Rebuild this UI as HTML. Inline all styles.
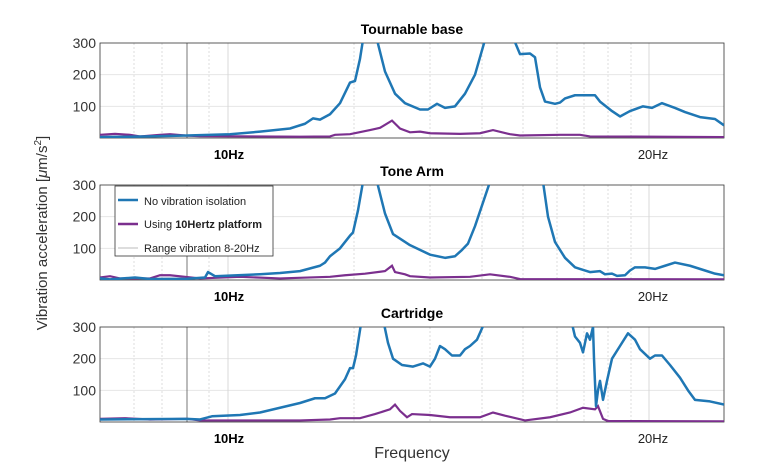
<!DOCTYPE html><html><head><style>
body{margin:0;background:#fff;font-family:"Liberation Sans",sans-serif}
text{font-family:"Liberation Sans",sans-serif}
</style></head><body>
<svg id="s" width="776" height="466" viewBox="0 0 776 466" xmlns="http://www.w3.org/2000/svg"></svg>
<script>
const S=document.getElementById('s');let h='';
const panels=[{t:43,title:'Tournable base'},{t:185,title:'Tone  Arm'},{t:327,title:'Cartridge'}];
const H=95,L=100,R=724;
const grid=[134,162,209,354,430,482,523,557,584,608,631];
const data=[
{b:[[100,3],[150,5],[187,8],[230,12],[260,20],[290,30],[305,45],[313,62],[320,58],[330,75],[340,110],[350,175],[355,180],[360,250],[363,310],[377,310],[385,210],[395,140],[405,110],[420,90],[428,90],[437,108],[445,95],[455,100],[465,140],[475,200],[485,310],[514,310],[520,265],[530,267],[535,255],[540,160],[545,115],[555,108],[560,112],[565,125],[575,135],[595,135],[600,115],[612,85],[620,68],[630,85],[643,100],[652,95],[662,110],[675,95],[685,82],[700,66],[715,60],[724,40]],
p:[[100,10],[115,13],[130,10],[140,5],[160,10],[170,12],[185,8],[200,6],[300,4],[330,5],[335,10],[350,12],[370,25],[380,32],[392,55],[400,30],[410,18],[420,20],[430,15],[460,13],[480,15],[493,25],[510,12],[520,8],[560,10],[580,10],[590,5],[724,3]]},
{b:[[100,5],[110,2],[135,8],[150,3],[187,4],[205,8],[208,25],[215,12],[260,18],[280,22],[300,28],[320,45],[325,55],[330,75],[340,100],[350,140],[353,150],[358,220],[363,310],[377,310],[385,210],[393,145],[410,110],[430,80],[445,70],[455,75],[462,95],[468,115],[475,170],[490,310],[543,310],[548,200],[555,120],[565,70],[575,40],[580,35],[590,25],[600,28],[605,18],[612,20],[617,13],[625,15],[630,30],[635,40],[645,40],[655,35],[665,45],[675,55],[690,45],[705,30],[715,20],[724,15]],
p:[[100,8],[110,12],[120,5],[150,5],[160,15],[170,15],[185,10],[200,5],[240,10],[280,5],[330,10],[345,15],[365,20],[385,28],[392,45],[395,25],[405,18],[410,12],[430,8],[470,10],[490,18],[510,10],[520,3],[724,2]]},
{b:[[100,8],[187,10],[200,8],[212,18],[240,22],[260,30],[280,45],[300,60],[315,75],[325,75],[335,90],[345,135],[350,170],[353,170],[356,210],[361,310],[384,310],[388,250],[393,200],[402,180],[413,175],[423,185],[430,175],[435,200],[440,240],[445,230],[452,210],[460,210],[465,230],[470,240],[477,260],[484,310],[572,310],[575,270],[580,250],[583,220],[587,280],[590,260],[593,300],[594,200],[596,50],[598,100],[600,130],[603,70],[607,130],[612,200],[620,240],[628,280],[635,260],[640,230],[650,200],[655,210],[662,210],[670,180],[680,140],[688,100],[695,70],[710,65],[724,55]],
p:[[100,10],[125,12],[150,8],[187,10],[200,5],[300,5],[330,8],[340,12],[360,12],[375,25],[390,40],[395,55],[400,35],[407,15],[412,25],[430,22],[450,15],[480,15],[493,30],[505,20],[525,5],[550,15],[570,30],[583,45],[595,40],[598,50],[603,10],[608,3],[724,2]]}];
panels.forEach((p,i)=>{
 const t=p.t,b=t+H,y=v=>b-v*H/300;
 h+=`<clipPath id="c${i}"><rect x="${L}" y="${t}" width="${R-L}" height="${H}"/></clipPath>`;
 [100,200].forEach(v=>h+=`<line x1="${L}" x2="${R}" y1="${y(v)}" y2="${y(v)}" stroke="#e6e6e6"/>`);
 grid.forEach(x=>h+=`<line x1="${x}" x2="${x}" y1="${t}" y2="${b}" stroke="#dcdcdc" stroke-dasharray="2,2"/>`);
 [228,649].forEach(x=>h+=`<line x1="${x}" x2="${x}" y1="${t}" y2="${b}" stroke="#d8d8d8"/>`);
 h+=`<line x1="187" x2="187" y1="${t}" y2="${b}" stroke="#555" stroke-width="0.8"/>`;
 h+=`<rect x="${L}" y="${t}" width="${R-L}" height="${H}" fill="none" stroke="#333" stroke-width="0.8"/>`;
 [300,200,100].forEach(v=>h+=`<text x="96" y="${y(v)+5}" font-size="14" text-anchor="end" fill="#333">${v}</text>`);
 h+=`<text x="412" y="${t-9}" font-size="14" font-weight="bold" text-anchor="middle">${p.title}</text>`;
 h+=`<text x="229" y="${b+21}" font-size="13" font-weight="bold" text-anchor="middle">10Hz</text>`;
 h+=`<text x="653" y="${b+21}" font-size="13" text-anchor="middle" fill="#222">20Hz</text>`;
 const d=data[i];
 h+=`<g clip-path="url(#c${i})"><polyline fill="none" stroke="#7b2f8e" stroke-width="2.2" points="${d.p.map(q=>q[0]+','+y(q[1])).join(' ')}"/>`;
 h+=`<polyline fill="none" stroke="#1f77b4" stroke-width="2.5" stroke-linejoin="round" points="${d.b.map(q=>q[0]+','+y(q[1])).join(' ')}"/></g>`;
});
h+=`<rect x="115" y="186" width="158" height="70" fill="#fff" stroke="#333" stroke-width="0.8"/>
<line x1="118" x2="138" y1="200" y2="200" stroke="#1f77b4" stroke-width="2.5"/><text x="144" y="205" font-size="11" fill="#222">No vibration  isolation</text>
<line x1="118" x2="138" y1="224" y2="224" stroke="#7b2f8e" stroke-width="2.5"/><text x="144" y="228" font-size="11" fill="#222">Using <tspan font-weight="bold">10Hertz platform</tspan></text>
<line x1="118" x2="138" y1="248" y2="248" stroke="#bbb" stroke-width="1"/><text x="144" y="252" font-size="11" fill="#222">Range vibration 8-20Hz</text>
<text x="412" y="458" font-size="16" text-anchor="middle" fill="#333">Frequency</text>
<text transform="translate(47,233) rotate(-90)" font-size="15" text-anchor="middle" fill="#333">Vibration acceleration [<tspan font-style="italic">μ</tspan>m/s<tspan dy="-6" font-size="10">2</tspan><tspan dy="6">]</tspan></text>`;
S.innerHTML=h;
</script></body></html>
